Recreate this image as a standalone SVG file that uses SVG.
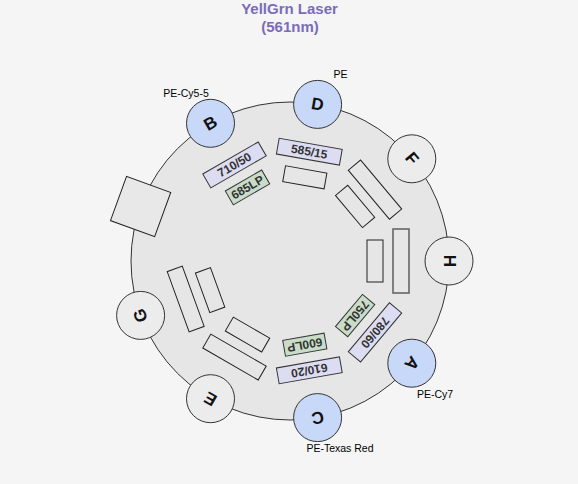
<svg xmlns="http://www.w3.org/2000/svg" width="578" height="484" viewBox="0 0 578 484">
<style>
.bg{fill:#f5f5f5}
.title{font-family:"Liberation Sans",Arial,sans-serif;font-weight:bold;font-size:15px;fill:#7a6cbb;text-anchor:middle}
.ring{fill:#e6e6e6;stroke:#333;stroke-width:1}
.det{stroke:#333;stroke-width:1}
.used{fill:#c8d8f8}
.unused{fill:#ececec}
.dl{font-family:"Liberation Sans",Arial,sans-serif;font-weight:bold;font-size:17px;fill:#111;text-anchor:middle;dominant-baseline:central}
.lbl{font-family:"Liberation Sans",Arial,sans-serif;font-size:10.5px;fill:#000;text-anchor:middle}
.blank{fill:none;stroke:#222;stroke-width:1}
.bp{fill:#dcdcf2;stroke:#333;stroke-width:1}
.lp{fill:#c8dcc8;stroke:#333;stroke-width:1}
.ft{font-family:"Liberation Sans",Arial,sans-serif;font-weight:bold;font-size:12px;fill:#333;text-anchor:middle;dominant-baseline:central}
.sq{fill:#e8e8e8;stroke:#222;stroke-width:1}
</style>
<rect class="bg" x="0" y="0" width="578" height="484"/>
<g id="title">
<text class="title" x="289.5" y="14">YellGrn Laser</text>
<text class="title" x="290" y="31.5">(561nm)</text>
</g>
<g id="ring"><circle class="ring" cx="290" cy="261" r="159"/></g>
<g id="connectors"/>
<g id="square"><rect class="sq" x="-23.5" y="-23.5" width="47" height="47" transform="translate(140.6,206.6) rotate(290)"/></g>
<g id="filters-H">
<rect class="blank" style="stroke:#666;stroke-width:1.6" x="-32" y="-8" width="64" height="16" transform="translate(401,261) rotate(90)"/>
<rect class="blank" x="-21" y="-8" width="42" height="16" transform="translate(375,261) rotate(90)"/>
</g>
<g id="filters-A">
<g transform="translate(375,332.4) rotate(130)"><rect class="bp" x="-32" y="-8" width="64" height="16"/><text class="ft">780/60</text></g>
<g transform="translate(355.1,315.6) rotate(130)"><rect class="lp" x="-21" y="-8" width="42" height="16"/><text class="ft">750LP</text></g>
</g>
<g id="filters-C">
<g transform="translate(309.3,370.3) rotate(170)"><rect class="bp" x="-32" y="-8" width="64" height="16"/><text class="ft">610/20</text></g>
<g transform="translate(304.8,344.7) rotate(170)"><rect class="lp" x="-21" y="-8" width="42" height="16"/><text class="ft">600LP</text></g>
</g>
<g id="filters-E">
<rect class="blank" x="-32" y="-8" width="64" height="16" transform="translate(234.5,357.1) rotate(210)"/>
<rect class="blank" x="-21" y="-8" width="42" height="16" transform="translate(247.5,334.6) rotate(210)"/>
</g>
<g id="filters-G">
<rect class="blank" x="-32" y="-8" width="64" height="16" transform="translate(185.7,299) rotate(250)"/>
<rect class="blank" x="-21" y="-8" width="42" height="16" transform="translate(210.1,290.1) rotate(250)"/>
</g>
<g id="filters-B">
<g transform="translate(234.5,164.9) rotate(330)"><rect class="bp" x="-32" y="-8" width="64" height="16"/><text class="ft">710/50</text></g>
<g transform="translate(247.5,187.4) rotate(330)"><rect class="lp" x="-21" y="-8" width="42" height="16"/><text class="ft">685LP</text></g>
</g>
<g id="filters-D">
<g transform="translate(309.3,151.7) rotate(10)"><rect class="bp" x="-32" y="-8" width="64" height="16"/><text class="ft">585/15</text></g>
<rect class="blank" x="-21" y="-8" width="42" height="16" transform="translate(304.8,177.3) rotate(10)"/>
</g>
<g id="filters-F">
<rect class="blank" x="-32" y="-8" width="64" height="16" transform="translate(375,189.6) rotate(50)"/>
<rect class="blank" x="-21" y="-8" width="42" height="16" transform="translate(355.1,206.4) rotate(50)"/>
</g>
<g id="det-H"><circle class="det unused" cx="449" cy="261" r="24"/><text class="dl" transform="translate(449,261) rotate(90)">H</text></g>
<g id="det-A"><circle class="det used" cx="411.8" cy="363.2" r="24"/><text class="dl" transform="translate(411.8,363.2) rotate(130)">A</text><text class="lbl" x="435" y="398">PE-Cy7</text></g>
<g id="det-C"><circle class="det used" cx="317.6" cy="417.6" r="24"/><text class="dl" transform="translate(317.6,417.6) rotate(170)">C</text><text class="lbl" x="340" y="452">PE-Texas Red</text></g>
<g id="det-E"><circle class="det unused" cx="210.5" cy="398.7" r="24"/><text class="dl" transform="translate(210.5,398.7) rotate(210)">E</text></g>
<g id="det-G"><circle class="det unused" cx="140.6" cy="315.4" r="24"/><text class="dl" transform="translate(140.6,315.4) rotate(250)">G</text></g>
<g id="det-B"><circle class="det used" cx="210.5" cy="123.3" r="24"/><text class="dl" transform="translate(210.5,123.3) rotate(330)">B</text><text class="lbl" x="186" y="97">PE-Cy5-5</text></g>
<g id="det-D"><circle class="det used" cx="317.6" cy="104.4" r="24"/><text class="dl" transform="translate(317.6,104.4) rotate(10)">D</text><text class="lbl" x="340.5" y="78">PE</text></g>
<g id="det-F"><circle class="det unused" cx="411.8" cy="158.8" r="24"/><text class="dl" transform="translate(411.8,158.8) rotate(50)">F</text></g>
</svg>
